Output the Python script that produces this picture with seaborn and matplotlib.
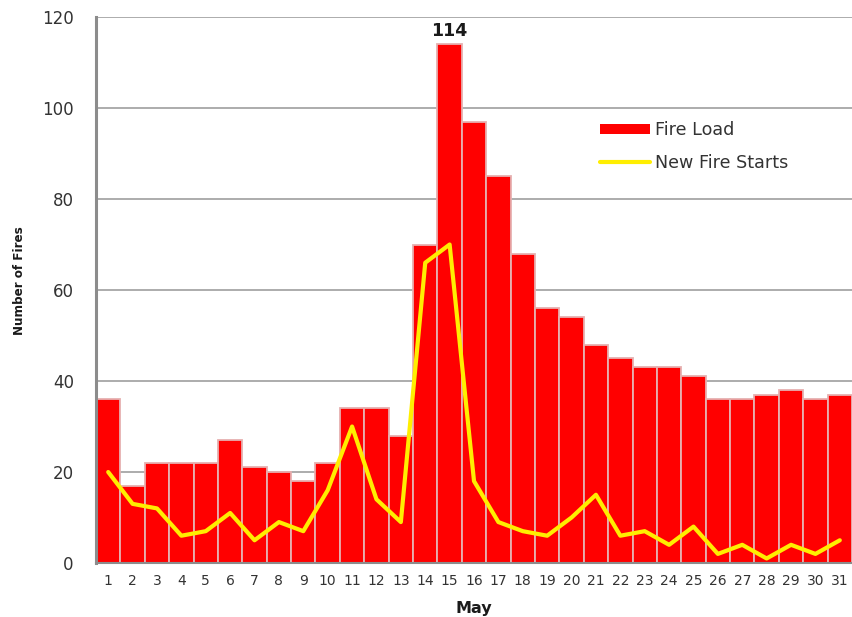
import numpy as np
import pandas as pd
import matplotlib
matplotlib.use("Agg")
import matplotlib.pyplot as plt
import seaborn as sns
from matplotlib.patches import Patch
from matplotlib.lines import Line2D

days = list(range(1, 32))
fire_load = [36, 17, 22, 22, 22, 27, 21, 20, 18, 22, 34, 34, 28, 70, 114, 97,
             85, 68, 56, 54, 48, 45, 43, 43, 41, 36, 36, 37, 38, 36, 37]
new_starts = [20, 13, 12, 6, 7, 11, 5, 9, 7, 16, 30, 14, 9, 66, 70, 18,
              9, 7, 6, 10, 15, 6, 7, 4, 8, 2, 4, 1, 4, 2, 5]
y_ticks = [0, 20, 40, 60, 80, 100, 120]

df = pd.DataFrame({"day": days, "load": fire_load, "starts": new_starts})

sns.set_style("white")
plt.rcParams["font.family"] = ["DejaVu Sans"]

fig = plt.figure(figsize=(8.52, 6.17), dpi=100)
ax = fig.add_axes([0.1127, 0.0875, 0.8873, 0.8849])

ax.set_axisbelow(True)
ax.yaxis.grid(True, color="#a6a6a6", linewidth=1.3)

sns.barplot(data=df, x="day", y="load", native_scale=True, width=1.0,
            color="#ff0000", saturation=1, edgecolor="#e6b0b0",
            linewidth=1.3, ax=ax, zorder=2)
sns.lineplot(data=df, x="day", y="starts", color="#ffee00", linewidth=3,
             ax=ax, zorder=3)

# peak value label
peak = int(np.argmax(fire_load))
ax.text(days[peak], fire_load[peak] + 1.0, str(fire_load[peak]),
        ha="center", va="bottom", fontsize=12.5, fontweight="bold",
        color="#1a1a1a")

ax.set_xlim(0.5, 31.5)
ax.set_ylim(0, 120)
ax.set_yticks(y_ticks)
ax.set_xticks(days)
ax.set_xticklabels([str(d) for d in days], fontsize=10, color="#333333")
ax.set_xticks(np.arange(0.5, 32, 1.0), minor=True)
ax.tick_params(axis="x", which="major", length=0, pad=8)
ax.tick_params(axis="x", which="minor", length=6, width=1.3, color="#8c8c8c",
               direction="out")
ax.tick_params(axis="y", which="major", length=7, width=1.3, color="#8c8c8c",
               direction="out", labelsize=12, labelcolor="#333333", pad=9)

for side in ("top", "right"):
    ax.spines[side].set_visible(False)
ax.spines["left"].set_color("#8c8c8c")
ax.spines["left"].set_linewidth(2.2)
ax.spines["bottom"].set_color("#8c8c8c")
ax.spines["bottom"].set_linewidth(1.5)

ax.set_xlabel("May", fontsize=11.5, fontweight="bold", color="#1a1a1a",
              labelpad=9)
ax.set_ylabel("Number of Fires", fontsize=9.5, fontweight="bold",
              color="#1a1a1a", fontstretch="condensed",
              family=["DejaVu Sans"])
ax.yaxis.set_label_coords(-0.092, 0.517)

handles = [Patch(facecolor="#ff0000", edgecolor="none"),
           Line2D([0], [0], color="#ffee00", linewidth=3)]
ax.legend(handles, ["Fire Load", "New Fire Starts"], loc="upper left",
          bbox_to_anchor=(0.646, 0.838), frameon=False, fontsize=12.6,
          handlelength=2.85, handleheight=0.55, labelspacing=0.85,
          handletextpad=0.3, labelcolor="#333333")

fig.savefig("out.png", dpi=100)
